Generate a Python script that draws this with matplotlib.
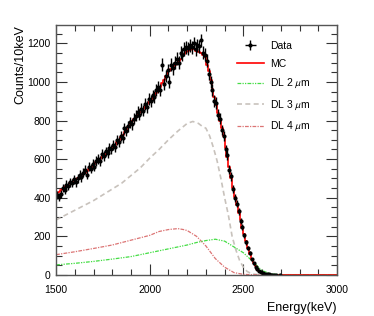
import numpy as np
import matplotlib
matplotlib.use("Agg")
from matplotlib import pyplot as plt
from matplotlib.ticker import MultipleLocator

plt.rcParams["font.family"] = ["Liberation Sans", "DejaVu Sans"]
plt.rcParams["mathtext.fontset"] = "stixsans"

# 10 keV bins, left edges 1500 ... 2990
bin_edges = np.arange(1500, 3010, 10)

# MC spectrum (counts per 10 keV), bins 1500-2690, near zero above
mc_counts = [
    425, 430, 440, 445, 455, 460, 468, 475, 482, 490,
    495, 502, 508, 515, 522, 530, 540, 548, 556, 565,
    575, 583, 592, 600, 610, 620, 628, 636, 645, 655,
    665, 675, 688, 700, 712, 725, 740, 752, 765, 780,
    795, 808, 818, 828, 840, 852, 862, 872, 885, 895,
    905, 918, 930, 945, 960, 975, 995, 1012, 1030, 1045,
    1055, 1068, 1078, 1088, 1098, 1108, 1120, 1132, 1145, 1155,
    1160, 1165, 1170, 1168, 1162, 1160, 1155, 1150, 1140, 1128,
    1090, 1055, 1010, 965, 920, 880, 840, 800, 760, 720,
    660, 610, 560, 500, 450, 405, 360, 320, 285, 245,
    210, 175, 140, 110, 85, 62, 45, 32, 22, 15,
    10, 7, 5, 3, 2, 2, 1, 1, 1, 1,
] + [0.8] * 30

# measured data, bins 1500-2690
data_counts = [
    415, 405, 420, 450, 440, 468, 462, 480, 476, 495,
    480, 500, 520, 505, 530, 545, 520, 560, 550, 575,
    560, 590, 600, 590, 625, 615, 640, 630, 660, 650,
    672, 665, 700, 690, 720, 710, 760, 745, 770, 790,
    780, 810, 825, 845, 830, 860, 850, 885, 870, 910,
    900, 930, 920, 960, 975, 960, 1090, 990, 1030, 1060,
    1001, 1090, 1070, 1100, 1120, 1100, 1150, 1140, 1170, 1180,
    1175, 1190, 1180, 1200, 1170, 1190, 1185, 1215, 1150, 1140,
    1110, 1040, 1000, 960, 900, 890, 830, 810, 750, 720,
    650, 620, 545, 510, 445, 400, 370, 330, 280, 250,
    205, 170, 140, 115, 80, 60, 42, 30, 20, 14,
    9, 6, 4, 3, 2, 1, 1, 2, 0, 1,
]

# dead-layer simulations
dl2_e = [1500, 1600, 1700, 1800, 1900, 2000, 2100, 2200, 2250, 2300, 2350,
         2400, 2450, 2500, 2550, 2600, 2650, 2700, 2800, 2900, 3000]
dl2_c = [52, 60, 70, 82, 95, 115, 135, 155, 168, 178, 185,
         175, 145, 115, 70, 22, 5, 1, 0.5, 0.5, 0.5]

dl3_e = [1500, 1550, 1600, 1650, 1700, 1750, 1800, 1850, 1900, 1950, 2000,
         2050, 2100, 2150, 2200, 2230, 2260, 2280, 2300, 2320, 2340, 2360,
         2380, 2400, 2420, 2440, 2460, 2480, 2500, 2520, 2540, 2560, 2600,
         2800, 3000]
dl3_c = [285, 310, 335, 360, 385, 415, 445, 475, 515, 555, 605,
         650, 700, 745, 785, 795, 785, 770, 760, 720, 660, 590,
         500, 400, 310, 200, 130, 75, 40, 18, 8, 3, 1,
         0.5, 0.5]

dl4_e = [1500, 1600, 1700, 1800, 1900, 2000, 2050, 2100, 2150, 2180, 2200,
         2250, 2300, 2350, 2400, 2450, 2500, 2550, 2700, 3000]
dl4_c = [105, 120, 137, 155, 180, 205, 225, 235, 240, 235, 230,
         200, 150, 85, 40, 12, 3, 1, 0.5, 0.5]

fig = plt.figure(figsize=(3.74, 3.16), dpi=100)
ax = fig.add_axes([0.150, 0.130, 0.751, 0.791])

# DL curves
ax.plot(dl3_e, dl3_c, color="#c8c2bc", lw=1.2, ls=(0, (3, 2)), label=r"DL 3 $\mu$m")
ax.plot(dl4_e, dl4_c, color="#dc7474", lw=0.9, ls=(0, (3, 1, 1, 1)), label=r"DL 4 $\mu$m")
ax.plot(dl2_e, dl2_c, color="#44dd44", lw=0.9, ls=(0, (3, 1, 1, 1, 1, 1)), label=r"DL 2 $\mu$m")

# MC step histogram
mc_x = np.append(bin_edges[:-1], 3000)
mc_y = np.append(mc_counts, mc_counts[-1])
ax.step(mc_x, mc_y, where="post", color="red", lw=1.2, label="MC")

# data points
data_counts = np.array(data_counts, dtype=float)
centers = bin_edges[:len(data_counts)] + 5
keep = data_counts > 0
eb = ax.errorbar(centers[keep], data_counts[keep], yerr=np.sqrt(data_counts[keep]),
                 xerr=5, fmt="o", color="black", ms=2.0, elinewidth=1.0,
                 capsize=0, label="Data")

ax.set_xlim(1500, 3000)
ax.set_ylim(0, 1295)
ax.xaxis.set_major_locator(MultipleLocator(500))
ax.xaxis.set_minor_locator(MultipleLocator(100))
ax.yaxis.set_major_locator(MultipleLocator(200))
ax.yaxis.set_minor_locator(MultipleLocator(50))
ax.tick_params(which="both", direction="in", top=True, right=True,
               labelsize=7.5, width=0.8, color="#333333")
ax.tick_params(axis="x", pad=7)
ax.tick_params(axis="y", pad=4)
ax.tick_params(which="major", length=8)
ax.tick_params(which="minor", length=4)
for s in ax.spines.values():
    s.set_color("#555555")
    s.set_linewidth(1.0)

ax.set_xlabel("Energy(keV)", fontsize=9, loc="right", labelpad=5)
ax.set_ylabel("Counts/10keV", fontsize=9, loc="top", labelpad=1)

handles, labels = ax.get_legend_handles_labels()
order = ["Data", "MC", r"DL 2 $\mu$m", r"DL 3 $\mu$m", r"DL 4 $\mu$m"]
hmap = dict(zip(labels, handles))
ax.legend([hmap[k] for k in order], order, loc="upper left",
          bbox_to_anchor=(0.61, 0.975), frameon=False, fontsize=7.5,
          handlelength=2.6, labelspacing=0.8, handletextpad=0.6)

fig.savefig("out.png", dpi=100)
